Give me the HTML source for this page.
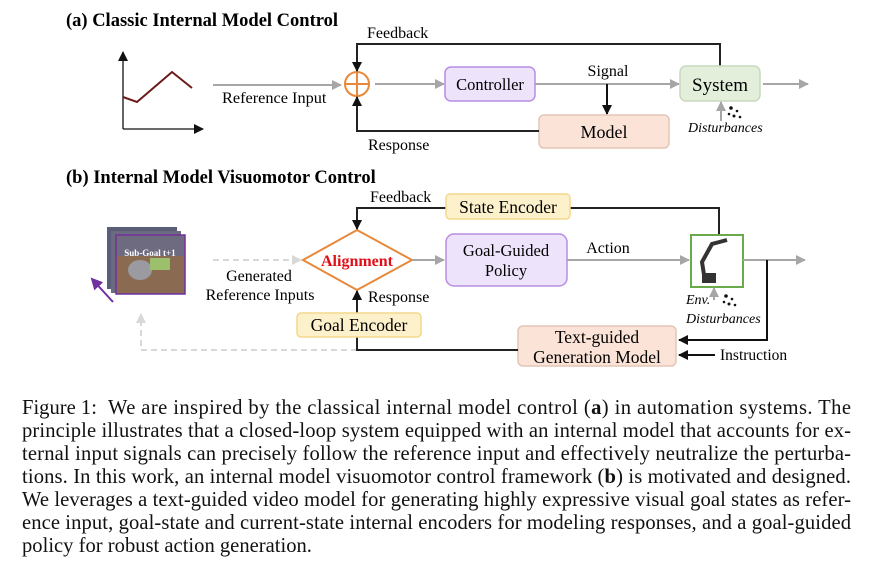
<!DOCTYPE html>
<html><head><meta charset="utf-8"><style>
html,body{margin:0;padding:0;background:#fff;}
svg{display:block;font-family:"Liberation Serif",serif;}
</style></head><body>
<svg width="872" height="563" viewBox="0 0 872 563" xmlns="http://www.w3.org/2000/svg">
<defs>
<marker id="ag" markerWidth="10" markerHeight="10" refX="9" refY="5" orient="auto" markerUnits="userSpaceOnUse"><path d="M0,0 L10,5 L0,10 z" fill="#a6a6a6"/></marker>
<marker id="ab" markerWidth="10" markerHeight="10" refX="9" refY="5" orient="auto" markerUnits="userSpaceOnUse"><path d="M0,0 L10,5 L0,10 z" fill="#111"/></marker>
<marker id="ap" markerWidth="12" markerHeight="12" refX="10" refY="6" orient="auto" markerUnits="userSpaceOnUse"><path d="M0,0 L12,6 L0,12 z" fill="#7030a0"/></marker>
<marker id="al" markerWidth="10" markerHeight="10" refX="9" refY="5" orient="auto" markerUnits="userSpaceOnUse"><path d="M0,0 L10,5 L0,10 z" fill="#d8d8d8"/></marker>
</defs>

<!-- (a) -->
<text x="66" y="26" font-size="18.5" font-weight="bold">(a) Classic Internal Model Control</text>
<line x1="123" y1="129" x2="123" y2="52" stroke="#111" stroke-width="1.3" marker-end="url(#ab)"/>
<line x1="123" y1="129" x2="203" y2="129" stroke="#111" stroke-width="1.3" marker-end="url(#ab)"/>
<polyline points="123,97 137,102 172,72 192,88" fill="none" stroke="#6b1a1a" stroke-width="2"/>
<line x1="213" y1="85" x2="341" y2="85" stroke="#a6a6a6" stroke-width="2" marker-end="url(#ag)"/>
<text x="222" y="103" font-size="16.3">Reference Input</text>
<circle cx="357" cy="84" r="12" fill="none" stroke="#e8883a" stroke-width="2"/>
<line x1="345" y1="84" x2="369" y2="84" stroke="#e8883a" stroke-width="2"/>
<line x1="357" y1="72" x2="357" y2="96" stroke="#e8883a" stroke-width="2"/>
<polyline points="720,66 720,44 357,44 357,71" fill="none" stroke="#222" stroke-width="2" marker-end="url(#ab)"/>
<text x="367" y="38" font-size="16">Feedback</text>
<line x1="375" y1="84" x2="444" y2="84" stroke="#a6a6a6" stroke-width="2" marker-end="url(#ag)"/>
<rect x="445" y="67" width="90" height="34" rx="6" fill="#ede4fc" stroke="#b78de2" stroke-width="1.5"/>
<text x="490" y="90" font-size="16.5" text-anchor="middle">Controller</text>
<line x1="535" y1="84" x2="679" y2="84" stroke="#a6a6a6" stroke-width="2" marker-end="url(#ag)"/>
<text x="608" y="76" font-size="16" text-anchor="middle">Signal</text>
<line x1="607" y1="84" x2="607" y2="114" stroke="#111" stroke-width="2" marker-end="url(#ab)"/>
<rect x="539" y="115" width="130" height="33" rx="5" fill="#fbe4d7" stroke="#e3c5b5" stroke-width="1.5"/>
<text x="604" y="138" font-size="18" text-anchor="middle">Model</text>
<polyline points="539,131 357,131 357,97" fill="none" stroke="#222" stroke-width="2" marker-end="url(#ab)"/>
<text x="368" y="150" font-size="16">Response</text>
<rect x="680" y="66" width="80" height="35" rx="6" fill="#e3efdb" stroke="#c9d9c0" stroke-width="1.5"/>
<text x="720" y="91" font-size="19" text-anchor="middle">System</text>
<line x1="763" y1="84" x2="808" y2="84" stroke="#a6a6a6" stroke-width="2" marker-end="url(#ag)"/>
<line x1="721" y1="121" x2="721" y2="102" stroke="#a6a6a6" stroke-width="2" marker-end="url(#ag)"/>
<g fill="#111"><circle cx="731" cy="108" r="1.8"/><circle cx="737" cy="111" r="1.3"/><circle cx="729" cy="114" r="1.3"/><circle cx="734" cy="116" r="1.5"/><circle cx="740" cy="117" r="1.3"/></g>
<text x="688" y="132" font-size="14" font-style="italic">Disturbances</text>

<!-- (b) -->
<text x="66" y="183" font-size="18.5" font-weight="bold">(b) Internal Model Visuomotor Control</text>
<rect x="107" y="227" width="70" height="62" fill="#5a5e78"/>
<rect x="111" y="231" width="70" height="62" fill="#6a6a80"/>
<rect x="116" y="235" width="69" height="59" fill="#8a6a50" stroke="#7030a0" stroke-width="1.5"/>
<rect x="117" y="236" width="67" height="20" fill="#6e6a80"/>
<ellipse cx="140" cy="270" rx="12" ry="10" fill="#9a9aa0"/>
<rect x="150" y="258" width="20" height="12" fill="#9bbf6a"/>
<text x="150" y="256" font-size="9" font-weight="bold" fill="#fff" text-anchor="middle">Sub-Goal t+1</text>
<line x1="113" y1="302" x2="92" y2="279" stroke="#7030a0" stroke-width="2" marker-end="url(#ap)"/>
<line x1="213" y1="260" x2="301" y2="260" stroke="#d8d8d8" stroke-width="2" stroke-dasharray="6,4" marker-end="url(#al)"/>
<text x="259" y="281" font-size="16" text-anchor="middle">Generated</text>
<text x="260" y="300" font-size="16" text-anchor="middle">Reference Inputs</text>
<polygon points="303,260 357,230 412,260 357,290" fill="#fff" stroke="#e8883a" stroke-width="2"/>
<text x="357" y="266" font-size="16" font-weight="bold" fill="#e0101a" text-anchor="middle">Alignment</text>
<polyline points="719,235 719,208 357,208 357,229" fill="none" stroke="#222" stroke-width="2" marker-end="url(#ab)"/>
<text x="370" y="202" font-size="16">Feedback</text>
<rect x="446" y="194" width="124" height="25" rx="4" fill="#fdf1cc" stroke="#f3d88c" stroke-width="1.5"/>
<text x="508" y="213" font-size="17.5" text-anchor="middle">State Encoder</text>
<line x1="412" y1="260" x2="444" y2="260" stroke="#a6a6a6" stroke-width="2" marker-end="url(#ag)"/>
<rect x="446" y="234" width="121" height="52" rx="8" fill="#ede4fc" stroke="#b78de2" stroke-width="1.5"/>
<text x="506" y="256" font-size="16.5" text-anchor="middle">Goal-Guided</text>
<text x="506" y="276" font-size="16.5" text-anchor="middle">Policy</text>
<line x1="567" y1="260" x2="689" y2="260" stroke="#a6a6a6" stroke-width="2" marker-end="url(#ag)"/>
<text x="608" y="253" font-size="16" text-anchor="middle">Action</text>
<rect x="691" y="235" width="52" height="52" fill="#fff" stroke="#6aaa4a" stroke-width="2"/>
<polyline points="705,281 702,262 712,244 727,240" fill="none" stroke="#333" stroke-width="4"/>
<rect x="702" y="273" width="14" height="10" fill="#333"/>
<line x1="743" y1="260" x2="805" y2="260" stroke="#a6a6a6" stroke-width="2" marker-end="url(#ag)"/>
<polyline points="767,260 767,340 679,340" fill="none" stroke="#111" stroke-width="2" marker-end="url(#ab)"/>
<line x1="715" y1="355" x2="679" y2="355" stroke="#111" stroke-width="2" marker-end="url(#ab)"/>
<text x="720" y="360" font-size="15.5">Instruction</text>
<line x1="714" y1="300" x2="714" y2="288" stroke="#a6a6a6" stroke-width="2" marker-end="url(#ag)"/>
<g fill="#111"><circle cx="726" cy="296" r="1.8"/><circle cx="732" cy="299" r="1.3"/><circle cx="724" cy="302" r="1.3"/><circle cx="729" cy="304" r="1.5"/><circle cx="735" cy="305" r="1.3"/></g>
<text x="686" y="304" font-size="14" font-style="italic">Env.</text>
<text x="686" y="323" font-size="14" font-style="italic">Disturbances</text>
<rect x="518" y="326" width="158" height="40" rx="5" fill="#fbe4d7" stroke="#e3c5b5" stroke-width="1.5"/>
<text x="597" y="343" font-size="17.5" text-anchor="middle">Text-guided</text>
<text x="597" y="363" font-size="17.5" text-anchor="middle">Generation Model</text>
<polyline points="357,350 141,350 141,314" fill="none" stroke="#d8d8d8" stroke-width="2" stroke-dasharray="6,4" marker-end="url(#al)"/>
<polyline points="518,350 357,350 357,291" fill="none" stroke="#222" stroke-width="2" marker-end="url(#ab)"/>
<rect x="297" y="313" width="124" height="24" rx="4" fill="#fdf1cc" stroke="#f3d88c" stroke-width="1.5"/>
<text x="359" y="331" font-size="17.5" text-anchor="middle">Goal Encoder</text>
<text x="368" y="302" font-size="16">Response</text>

<!-- caption -->
<g font-size="20.6" fill="#111">
<text x="22" y="414">Figure 1:</text>
<text x="108" y="414" textLength="743" lengthAdjust="spacing">We are inspired by the classical internal model control (<tspan font-weight="bold">a</tspan>) in automation systems. The</text>
<text x="22" y="437" textLength="829" lengthAdjust="spacing">principle illustrates that a closed-loop system equipped with an internal model that accounts for ex-</text>
<text x="22" y="460" textLength="829" lengthAdjust="spacing">ternal input signals can precisely follow the reference input and effectively neutralize the perturba-</text>
<text x="22" y="483" textLength="829" lengthAdjust="spacing">tions. In this work, an internal model visuomotor control framework (<tspan font-weight="bold">b</tspan>) is motivated and designed.</text>
<text x="22" y="506" textLength="829" lengthAdjust="spacing">We leverages a text-guided video model for generating highly expressive visual goal states as refer-</text>
<text x="22" y="529" textLength="829" lengthAdjust="spacing">ence input, goal-state and current-state internal encoders for modeling responses, and a goal-guided</text>
<text x="22" y="552">policy for robust action generation.</text>
</g>
</svg>
</body></html>
